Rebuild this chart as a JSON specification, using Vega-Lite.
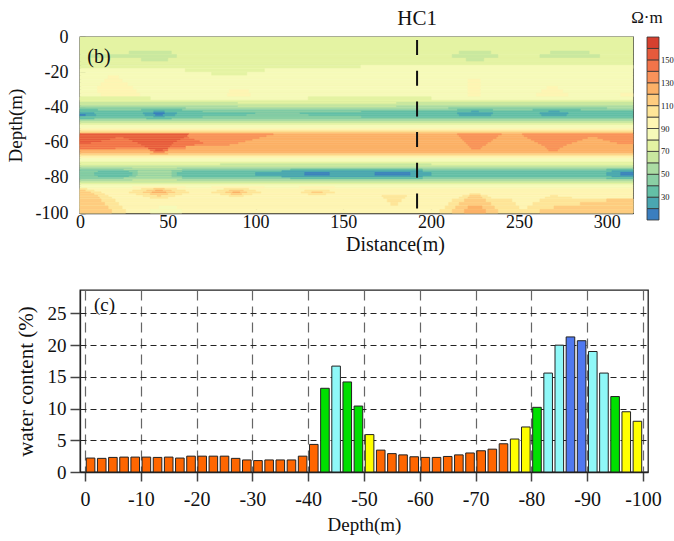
{
  "$schema": "https://vega.github.io/schema/vega-lite/v6.json",
  "padding": {"left": 5, "top": 7, "right": 0, "bottom": 0},
  "datasets": {
    "heat": [
      {"x0":0,"x1":315,"y0":0,"y1":-8,"v":75},
      {"x0":0,"x1":315,"y0":-8,"y1":-10,"v":75},{"x0":28,"x1":52,"y0":-8,"y1":-10,"v":65},{"x0":216,"x1":234,"y0":-8,"y1":-10,"v":65},{"x0":268,"x1":290,"y0":-8,"y1":-10,"v":65},
      {"x0":0,"x1":315,"y0":-10,"y1":-12,"v":75},{"x0":5,"x1":55,"y0":-10,"y1":-12,"v":65},{"x0":212,"x1":238,"y0":-10,"y1":-12,"v":65},{"x0":262,"x1":296,"y0":-10,"y1":-12,"v":65},
      {"x0":0,"x1":315,"y0":-12,"y1":-14,"v":75},{"x0":35,"x1":50,"y0":-12,"y1":-14,"v":65},{"x0":220,"x1":230,"y0":-12,"y1":-14,"v":65},
      {"x0":0,"x1":315,"y0":-14,"y1":-16,"v":75},
      {"x0":0,"x1":315,"y0":-16,"y1":-18,"v":75},{"x0":160,"x1":315,"y0":-16,"y1":-18,"v":85},
      {"x0":0,"x1":315,"y0":-18,"y1":-20,"v":85},{"x0":60,"x1":105,"y0":-18,"y1":-20,"v":75},
      {"x0":0,"x1":315,"y0":-20,"y1":-22,"v":85},{"x0":75,"x1":95,"y0":-20,"y1":-22,"v":75},
      {"x0":0,"x1":315,"y0":-22,"y1":-24,"v":85},{"x0":16,"x1":22,"y0":-22,"y1":-24,"v":95},
      {"x0":0,"x1":315,"y0":-24,"y1":-26,"v":85},{"x0":14,"x1":24,"y0":-24,"y1":-26,"v":95},{"x0":221,"x1":228,"y0":-24,"y1":-26,"v":95},
      {"x0":0,"x1":315,"y0":-26,"y1":-28,"v":85},{"x0":12,"x1":27,"y0":-26,"y1":-28,"v":95},{"x0":221,"x1":228,"y0":-26,"y1":-28,"v":95},
      {"x0":0,"x1":315,"y0":-28,"y1":-30,"v":85},{"x0":10,"x1":30,"y0":-28,"y1":-30,"v":95},{"x0":221,"x1":228,"y0":-28,"y1":-30,"v":95},{"x0":266,"x1":272,"y0":-28,"y1":-30,"v":95},
      {"x0":0,"x1":315,"y0":-30,"y1":-32,"v":85},{"x0":10,"x1":32,"y0":-30,"y1":-32,"v":95},{"x0":85,"x1":96,"y0":-30,"y1":-32,"v":95},{"x0":221,"x1":228,"y0":-30,"y1":-32,"v":95},{"x0":263,"x1":275,"y0":-30,"y1":-32,"v":95},
      {"x0":0,"x1":315,"y0":-32,"y1":-34,"v":85},{"x0":12,"x1":34,"y0":-32,"y1":-34,"v":95},{"x0":84,"x1":97,"y0":-32,"y1":-34,"v":95},{"x0":221,"x1":228,"y0":-32,"y1":-34,"v":95},{"x0":260,"x1":278,"y0":-32,"y1":-34,"v":95},{"x0":308,"x1":315,"y0":-32,"y1":-34,"v":95},
      {"x0":0,"x1":315,"y0":-34,"y1":-36,"v":85},{"x0":0,"x1":40,"y0":-34,"y1":-36,"v":75},{"x0":130,"x1":200,"y0":-34,"y1":-36,"v":75},
      {"x0":0,"x1":315,"y0":-36,"y1":-37,"v":75},
      {"x0":0,"x1":315,"y0":-37,"y1":-38,"v":65},{"x0":90,"x1":180,"y0":-37,"y1":-38,"v":75},
      {"x0":0,"x1":315,"y0":-38,"y1":-39,"v":65},
      {"x0":0,"x1":315,"y0":-39,"y1":-40,"v":55},{"x0":90,"x1":180,"y0":-39,"y1":-40,"v":65},
      {"x0":0,"x1":315,"y0":-40,"y1":-41,"v":55},{"x0":0,"x1":60,"y0":-40,"y1":-41,"v":45},{"x0":210,"x1":300,"y0":-40,"y1":-41,"v":45},
      {"x0":0,"x1":315,"y0":-41,"y1":-42,"v":45},{"x0":0,"x1":10,"y0":-41,"y1":-42,"v":35},{"x0":35,"x1":58,"y0":-41,"y1":-42,"v":35},{"x0":215,"x1":235,"y0":-41,"y1":-42,"v":35},{"x0":258,"x1":285,"y0":-41,"y1":-42,"v":35},
      {"x0":0,"x1":315,"y0":-42,"y1":-43,"v":35},{"x0":70,"x1":160,"y0":-42,"y1":-43,"v":45},{"x0":42,"x1":48,"y0":-42,"y1":-43,"v":25},{"x0":223,"x1":227,"y0":-42,"y1":-43,"v":25},{"x0":267,"x1":273,"y0":-42,"y1":-43,"v":25},
      {"x0":0,"x1":315,"y0":-43,"y1":-44,"v":35},{"x0":0,"x1":8,"y0":-43,"y1":-44,"v":25},{"x0":36,"x1":55,"y0":-43,"y1":-44,"v":25},{"x0":42,"x1":48,"y0":-43,"y1":-44,"v":15},{"x0":100,"x1":125,"y0":-43,"y1":-44,"v":45},{"x0":215,"x1":235,"y0":-43,"y1":-44,"v":25},{"x0":262,"x1":278,"y0":-43,"y1":-44,"v":25},
      {"x0":0,"x1":315,"y0":-44,"y1":-45,"v":35},{"x0":0,"x1":9,"y0":-44,"y1":-45,"v":25},{"x0":0,"x1":3,"y0":-44,"y1":-45,"v":15},{"x0":37,"x1":54,"y0":-44,"y1":-45,"v":25},{"x0":43,"x1":47,"y0":-44,"y1":-45,"v":15},{"x0":95,"x1":130,"y0":-44,"y1":-45,"v":45},{"x0":216,"x1":234,"y0":-44,"y1":-45,"v":25},{"x0":263,"x1":277,"y0":-44,"y1":-45,"v":25},
      {"x0":0,"x1":315,"y0":-45,"y1":-46,"v":35},{"x0":70,"x1":160,"y0":-45,"y1":-46,"v":45},{"x0":42,"x1":48,"y0":-45,"y1":-46,"v":25},
      {"x0":0,"x1":315,"y0":-46,"y1":-47,"v":45},{"x0":0,"x1":8,"y0":-46,"y1":-47,"v":35},{"x0":38,"x1":52,"y0":-46,"y1":-47,"v":35},
      {"x0":0,"x1":315,"y0":-47,"y1":-48,"v":55},
      {"x0":0,"x1":315,"y0":-48,"y1":-49,"v":65},
      {"x0":0,"x1":315,"y0":-49,"y1":-50,"v":75},
      {"x0":0,"x1":315,"y0":-50,"y1":-52,"v":85},
      {"x0":0,"x1":315,"y0":-52,"y1":-53,"v":95},
      {"x0":0,"x1":315,"y0":-53,"y1":-54,"v":105},
      {"x0":0,"x1":315,"y0":-54,"y1":-55,"v":115},
      {"x0":0,"x1":315,"y0":-55,"y1":-56,"v":125},{"x0":0,"x1":62,"y0":-55,"y1":-56,"v":155},{"x0":62,"x1":110,"y0":-55,"y1":-56,"v":135},{"x0":215,"x1":240,"y0":-55,"y1":-56,"v":135},{"x0":252,"x1":315,"y0":-55,"y1":-56,"v":135},
      {"x0":0,"x1":315,"y0":-56,"y1":-57,"v":125},{"x0":61,"x1":106,"y0":-56,"y1":-57,"v":135},{"x0":0,"x1":61,"y0":-56,"y1":-57,"v":155},{"x0":216,"x1":238,"y0":-56,"y1":-57,"v":135},{"x0":253,"x1":315,"y0":-56,"y1":-57,"v":135},
      {"x0":0,"x1":315,"y0":-57,"y1":-58,"v":125},{"x0":0,"x1":102,"y0":-57,"y1":-58,"v":135},{"x0":0,"x1":62,"y0":-57,"y1":-58,"v":145},{"x0":0,"x1":20,"y0":-57,"y1":-58,"v":155},{"x0":25,"x1":59,"y0":-57,"y1":-58,"v":155},{"x0":217,"x1":237,"y0":-57,"y1":-58,"v":135},{"x0":255,"x1":289,"y0":-57,"y1":-58,"v":135},{"x0":295,"x1":315,"y0":-57,"y1":-58,"v":135},
      {"x0":0,"x1":315,"y0":-58,"y1":-59,"v":125},{"x0":0,"x1":98,"y0":-58,"y1":-59,"v":135},{"x0":0,"x1":65,"y0":-58,"y1":-59,"v":145},{"x0":0,"x1":17,"y0":-58,"y1":-59,"v":155},{"x0":28,"x1":57,"y0":-58,"y1":-59,"v":155},{"x0":218,"x1":235,"y0":-58,"y1":-59,"v":135},{"x0":257,"x1":286,"y0":-58,"y1":-59,"v":135},{"x0":298,"x1":315,"y0":-58,"y1":-59,"v":135},
      {"x0":0,"x1":315,"y0":-59,"y1":-60,"v":125},{"x0":0,"x1":94,"y0":-59,"y1":-60,"v":135},{"x0":0,"x1":68,"y0":-59,"y1":-60,"v":145},{"x0":0,"x1":12,"y0":-59,"y1":-60,"v":155},{"x0":30,"x1":55,"y0":-59,"y1":-60,"v":155},{"x0":219,"x1":234,"y0":-59,"y1":-60,"v":135},{"x0":259,"x1":283,"y0":-59,"y1":-60,"v":135},{"x0":302,"x1":315,"y0":-59,"y1":-60,"v":135},
      {"x0":0,"x1":315,"y0":-60,"y1":-61,"v":125},{"x0":0,"x1":90,"y0":-60,"y1":-61,"v":135},{"x0":0,"x1":70,"y0":-60,"y1":-61,"v":145},{"x0":0,"x1":6,"y0":-60,"y1":-61,"v":155},{"x0":33,"x1":53,"y0":-60,"y1":-61,"v":155},{"x0":220,"x1":232,"y0":-60,"y1":-61,"v":135},{"x0":261,"x1":280,"y0":-60,"y1":-61,"v":135},{"x0":306,"x1":315,"y0":-60,"y1":-61,"v":135},
      {"x0":0,"x1":315,"y0":-61,"y1":-62,"v":125},{"x0":0,"x1":85,"y0":-61,"y1":-62,"v":135},{"x0":0,"x1":65,"y0":-61,"y1":-62,"v":145},{"x0":35,"x1":52,"y0":-61,"y1":-62,"v":155},{"x0":221,"x1":231,"y0":-61,"y1":-62,"v":135},{"x0":263,"x1":277,"y0":-61,"y1":-62,"v":135},
      {"x0":0,"x1":315,"y0":-62,"y1":-63,"v":125},{"x0":0,"x1":60,"y0":-62,"y1":-63,"v":145},{"x0":37,"x1":51,"y0":-62,"y1":-63,"v":155},{"x0":222,"x1":229,"y0":-62,"y1":-63,"v":135},{"x0":265,"x1":275,"y0":-62,"y1":-63,"v":135},
      {"x0":0,"x1":315,"y0":-63,"y1":-64,"v":125},{"x0":0,"x1":60,"y0":-63,"y1":-64,"v":135},{"x0":0,"x1":20,"y0":-63,"y1":-64,"v":145},{"x0":39,"x1":50,"y0":-63,"y1":-64,"v":155},{"x0":223,"x1":228,"y0":-63,"y1":-64,"v":135},{"x0":266,"x1":273,"y0":-63,"y1":-64,"v":135},
      {"x0":0,"x1":315,"y0":-64,"y1":-65,"v":125},{"x0":40,"x1":50,"y0":-64,"y1":-65,"v":145},{"x0":43,"x1":47,"y0":-64,"y1":-65,"v":155},{"x0":267,"x1":272,"y0":-64,"y1":-65,"v":135},
      {"x0":0,"x1":315,"y0":-65,"y1":-66,"v":125},{"x0":42,"x1":48,"y0":-65,"y1":-66,"v":145},
      {"x0":0,"x1":315,"y0":-66,"y1":-67,"v":115},{"x0":40,"x1":50,"y0":-66,"y1":-67,"v":125},
      {"x0":0,"x1":315,"y0":-67,"y1":-68,"v":105},
      {"x0":0,"x1":315,"y0":-68,"y1":-69,"v":95},
      {"x0":0,"x1":315,"y0":-69,"y1":-71,"v":85},
      {"x0":0,"x1":315,"y0":-71,"y1":-72,"v":75},
      {"x0":0,"x1":315,"y0":-72,"y1":-73,"v":75},{"x0":80,"x1":200,"y0":-72,"y1":-73,"v":65},
      {"x0":0,"x1":315,"y0":-73,"y1":-74,"v":65},
      {"x0":0,"x1":315,"y0":-74,"y1":-75,"v":55},{"x0":30,"x1":55,"y0":-74,"y1":-75,"v":65},
      {"x0":0,"x1":315,"y0":-75,"y1":-76,"v":45},{"x0":25,"x1":58,"y0":-75,"y1":-76,"v":55},{"x0":120,"x1":195,"y0":-75,"y1":-76,"v":35},{"x0":300,"x1":315,"y0":-75,"y1":-76,"v":35},
      {"x0":0,"x1":315,"y0":-76,"y1":-77,"v":35},{"x0":0,"x1":10,"y0":-76,"y1":-77,"v":45},{"x0":28,"x1":58,"y0":-76,"y1":-77,"v":45},{"x0":33,"x1":52,"y0":-76,"y1":-77,"v":55},{"x0":115,"x1":195,"y0":-76,"y1":-77,"v":25},{"x0":303,"x1":315,"y0":-76,"y1":-77,"v":25},
      {"x0":0,"x1":315,"y0":-77,"y1":-78,"v":35},{"x0":0,"x1":8,"y0":-77,"y1":-78,"v":45},{"x0":30,"x1":55,"y0":-77,"y1":-78,"v":45},{"x0":33,"x1":52,"y0":-77,"y1":-78,"v":55},{"x0":100,"x1":200,"y0":-77,"y1":-78,"v":25},{"x0":128,"x1":142,"y0":-77,"y1":-78,"v":15},{"x0":168,"x1":188,"y0":-77,"y1":-78,"v":15},{"x0":300,"x1":315,"y0":-77,"y1":-78,"v":25},{"x0":308,"x1":315,"y0":-77,"y1":-78,"v":15},
      {"x0":0,"x1":315,"y0":-78,"y1":-79,"v":35},{"x0":0,"x1":8,"y0":-78,"y1":-79,"v":45},{"x0":30,"x1":55,"y0":-78,"y1":-79,"v":45},{"x0":33,"x1":52,"y0":-78,"y1":-79,"v":55},{"x0":100,"x1":200,"y0":-78,"y1":-79,"v":25},{"x0":128,"x1":142,"y0":-78,"y1":-79,"v":15},{"x0":168,"x1":188,"y0":-78,"y1":-79,"v":15},{"x0":300,"x1":315,"y0":-78,"y1":-79,"v":25},{"x0":308,"x1":315,"y0":-78,"y1":-79,"v":15},
      {"x0":0,"x1":315,"y0":-79,"y1":-80,"v":35},{"x0":0,"x1":10,"y0":-79,"y1":-80,"v":45},{"x0":28,"x1":58,"y0":-79,"y1":-80,"v":45},{"x0":32,"x1":52,"y0":-79,"y1":-80,"v":55},{"x0":115,"x1":195,"y0":-79,"y1":-80,"v":25},{"x0":303,"x1":315,"y0":-79,"y1":-80,"v":25},
      {"x0":0,"x1":315,"y0":-80,"y1":-81,"v":45},{"x0":25,"x1":58,"y0":-80,"y1":-81,"v":55},{"x0":120,"x1":195,"y0":-80,"y1":-81,"v":35},{"x0":300,"x1":315,"y0":-80,"y1":-81,"v":35},
      {"x0":0,"x1":315,"y0":-81,"y1":-82,"v":55},{"x0":30,"x1":55,"y0":-81,"y1":-82,"v":65},
      {"x0":0,"x1":315,"y0":-82,"y1":-83,"v":65},
      {"x0":0,"x1":315,"y0":-83,"y1":-84,"v":75},
      {"x0":0,"x1":315,"y0":-84,"y1":-85,"v":85},
      {"x0":0,"x1":315,"y0":-85,"y1":-86,"v":85},{"x0":30,"x1":60,"y0":-85,"y1":-86,"v":95},{"x0":75,"x1":105,"y0":-85,"y1":-86,"v":95},{"x0":125,"x1":145,"y0":-85,"y1":-86,"v":95},
      {"x0":0,"x1":315,"y0":-86,"y1":-87,"v":95},{"x0":0,"x1":4,"y0":-86,"y1":-87,"v":105},{"x0":35,"x1":55,"y0":-86,"y1":-87,"v":105},{"x0":42,"x1":48,"y0":-86,"y1":-87,"v":115},{"x0":82,"x1":96,"y0":-86,"y1":-87,"v":105},
      {"x0":0,"x1":315,"y0":-87,"y1":-88,"v":95},{"x0":0,"x1":8,"y0":-87,"y1":-88,"v":105},{"x0":0,"x1":3,"y0":-87,"y1":-88,"v":115},{"x0":30,"x1":60,"y0":-87,"y1":-88,"v":105},{"x0":38,"x1":52,"y0":-87,"y1":-88,"v":115},{"x0":43,"x1":47,"y0":-87,"y1":-88,"v":125},{"x0":78,"x1":100,"y0":-87,"y1":-88,"v":105},{"x0":85,"x1":93,"y0":-87,"y1":-88,"v":115},{"x0":128,"x1":142,"y0":-87,"y1":-88,"v":105},
      {"x0":0,"x1":315,"y0":-88,"y1":-89,"v":95},{"x0":0,"x1":12,"y0":-88,"y1":-89,"v":105},{"x0":0,"x1":6,"y0":-88,"y1":-89,"v":115},{"x0":28,"x1":62,"y0":-88,"y1":-89,"v":105},{"x0":36,"x1":54,"y0":-88,"y1":-89,"v":115},{"x0":41,"x1":49,"y0":-88,"y1":-89,"v":125},{"x0":75,"x1":103,"y0":-88,"y1":-89,"v":105},{"x0":83,"x1":95,"y0":-88,"y1":-89,"v":115},{"x0":87,"x1":91,"y0":-88,"y1":-89,"v":125},{"x0":126,"x1":145,"y0":-88,"y1":-89,"v":105},{"x0":132,"x1":138,"y0":-88,"y1":-89,"v":115},
      {"x0":0,"x1":315,"y0":-89,"y1":-90,"v":95},{"x0":0,"x1":14,"y0":-89,"y1":-90,"v":105},{"x0":0,"x1":8,"y0":-89,"y1":-90,"v":115},{"x0":32,"x1":58,"y0":-89,"y1":-90,"v":105},{"x0":40,"x1":50,"y0":-89,"y1":-90,"v":115},{"x0":80,"x1":98,"y0":-89,"y1":-90,"v":105},{"x0":86,"x1":92,"y0":-89,"y1":-90,"v":115},{"x0":130,"x1":140,"y0":-89,"y1":-90,"v":105},{"x0":222,"x1":228,"y0":-89,"y1":-90,"v":105},
      {"x0":0,"x1":315,"y0":-90,"y1":-91,"v":95},{"x0":0,"x1":16,"y0":-90,"y1":-91,"v":105},{"x0":0,"x1":10,"y0":-90,"y1":-91,"v":115},{"x0":36,"x1":54,"y0":-90,"y1":-91,"v":105},{"x0":44,"x1":46,"y0":-90,"y1":-91,"v":115},{"x0":85,"x1":93,"y0":-90,"y1":-91,"v":105},{"x0":172,"x1":186,"y0":-90,"y1":-91,"v":105},{"x0":218,"x1":232,"y0":-90,"y1":-91,"v":105},{"x0":222,"x1":228,"y0":-90,"y1":-91,"v":115},{"x0":268,"x1":272,"y0":-90,"y1":-91,"v":105},
      {"x0":0,"x1":315,"y0":-91,"y1":-92,"v":95},{"x0":0,"x1":18,"y0":-91,"y1":-92,"v":105},{"x0":0,"x1":11,"y0":-91,"y1":-92,"v":115},{"x0":40,"x1":50,"y0":-91,"y1":-92,"v":105},{"x0":173,"x1":185,"y0":-91,"y1":-92,"v":105},{"x0":216,"x1":234,"y0":-91,"y1":-92,"v":105},{"x0":221,"x1":229,"y0":-91,"y1":-92,"v":115},{"x0":265,"x1":280,"y0":-91,"y1":-92,"v":105},
      {"x0":0,"x1":315,"y0":-92,"y1":-94,"v":95},{"x0":0,"x1":20,"y0":-92,"y1":-94,"v":105},{"x0":0,"x1":12,"y0":-92,"y1":-94,"v":115},{"x0":175,"x1":183,"y0":-92,"y1":-94,"v":105},{"x0":212,"x1":246,"y0":-92,"y1":-94,"v":105},{"x0":219,"x1":231,"y0":-92,"y1":-94,"v":115},{"x0":262,"x1":315,"y0":-92,"y1":-94,"v":105},{"x0":300,"x1":315,"y0":-92,"y1":-94,"v":115},
      {"x0":0,"x1":315,"y0":-94,"y1":-96,"v":95},{"x0":0,"x1":22,"y0":-94,"y1":-96,"v":105},{"x0":0,"x1":14,"y0":-94,"y1":-96,"v":115},{"x0":177,"x1":181,"y0":-94,"y1":-96,"v":105},{"x0":210,"x1":248,"y0":-94,"y1":-96,"v":105},{"x0":216,"x1":234,"y0":-94,"y1":-96,"v":115},{"x0":258,"x1":315,"y0":-94,"y1":-96,"v":105},{"x0":285,"x1":315,"y0":-94,"y1":-96,"v":115},
      {"x0":0,"x1":315,"y0":-96,"y1":-98,"v":95},{"x0":0,"x1":24,"y0":-96,"y1":-98,"v":105},{"x0":0,"x1":16,"y0":-96,"y1":-98,"v":115},{"x0":45,"x1":55,"y0":-96,"y1":-98,"v":85},{"x0":208,"x1":250,"y0":-96,"y1":-98,"v":105},{"x0":214,"x1":236,"y0":-96,"y1":-98,"v":115},{"x0":221,"x1":229,"y0":-96,"y1":-98,"v":125},{"x0":255,"x1":315,"y0":-96,"y1":-98,"v":105},{"x0":270,"x1":315,"y0":-96,"y1":-98,"v":115},
      {"x0":0,"x1":315,"y0":-98,"y1":-100,"v":95},{"x0":0,"x1":26,"y0":-98,"y1":-100,"v":105},{"x0":0,"x1":18,"y0":-98,"y1":-100,"v":115},{"x0":40,"x1":58,"y0":-98,"y1":-100,"v":85},{"x0":205,"x1":315,"y0":-98,"y1":-100,"v":105},{"x0":212,"x1":238,"y0":-98,"y1":-100,"v":115},{"x0":219,"x1":231,"y0":-98,"y1":-100,"v":125},{"x0":262,"x1":315,"y0":-98,"y1":-100,"v":115}
    ],
    "bars": [
      {"d":-1,"w":2.2,"c":"o"},{"d":-3,"w":2.15,"c":"o"},{"d":-5,"w":2.3,"c":"o"},{"d":-7,"w":2.35,"c":"o"},{"d":-9,"w":2.35,"c":"o"},
      {"d":-11,"w":2.35,"c":"o"},{"d":-13,"w":2.3,"c":"o"},{"d":-15,"w":2.35,"c":"o"},{"d":-17,"w":2.2,"c":"o"},{"d":-19,"w":2.5,"c":"o"},
      {"d":-21,"w":2.5,"c":"o"},{"d":-23,"w":2.5,"c":"o"},{"d":-25,"w":2.5,"c":"o"},{"d":-27,"w":2.15,"c":"o"},{"d":-29,"w":1.9,"c":"o"},
      {"d":-31,"w":1.8,"c":"o"},{"d":-33,"w":1.9,"c":"o"},{"d":-35,"w":1.9,"c":"o"},{"d":-37,"w":1.9,"c":"o"},{"d":-39,"w":2.5,"c":"o"},
      {"d":-41,"w":4.35,"c":"o"},{"d":-43,"w":13.2,"c":"g"},{"d":-45,"w":16.7,"c":"c"},{"d":-47,"w":14.2,"c":"g"},{"d":-49,"w":10.4,"c":"g"},
      {"d":-51,"w":5.9,"c":"y"},{"d":-53,"w":3.45,"c":"o"},{"d":-55,"w":2.9,"c":"o"},{"d":-57,"w":2.7,"c":"o"},{"d":-59,"w":2.4,"c":"o"},
      {"d":-61,"w":2.3,"c":"o"},{"d":-63,"w":2.3,"c":"o"},{"d":-65,"w":2.45,"c":"o"},{"d":-67,"w":2.7,"c":"o"},{"d":-69,"w":3.0,"c":"o"},
      {"d":-71,"w":3.35,"c":"o"},{"d":-73,"w":3.6,"c":"o"},{"d":-75,"w":4.45,"c":"o"},{"d":-77,"w":5.2,"c":"y"},{"d":-79,"w":7.1,"c":"y"},
      {"d":-81,"w":10.2,"c":"g"},{"d":-83,"w":15.6,"c":"c"},{"d":-85,"w":20.0,"c":"c"},{"d":-87,"w":21.3,"c":"b"},{"d":-89,"w":20.7,"c":"b"},
      {"d":-91,"w":19.0,"c":"c"},{"d":-93,"w":15.6,"c":"c"},{"d":-95,"w":11.9,"c":"g"},{"d":-97,"w":9.5,"c":"y"},{"d":-99,"w":8.0,"c":"y"}
    ]
  },
  "concat": [
    {
      "width": 553,
      "height": 176,
      "view": {"stroke": "#222", "strokeWidth": 1.3},
      "encoding": {
        "x": {"field": "x0", "type": "quantitative", "title": "Distance(m)",
          "scale": {"domain": [0, 315], "nice": false, "zero": false},
          "axis": {"values": [0, 50, 100, 150, 200, 250, 300], "tickSize": -5, "labelFontSize": 18, "labelPadding": 5, "titleFontSize": 20, "titlePadding": 3, "titleX": 315, "grid": false,
            "labelFont": "Liberation Serif", "titleFont": "Liberation Serif", "titleFontWeight": "normal", "labelColor": "#111", "titleColor": "#111", "domainColor": "#222", "tickColor": "#222", "domainWidth": 1.3, "tickWidth": 1.3, "labelFlush": false, "labelOverlap": false}},
        "y": {"field": "y0", "type": "quantitative", "title": "Depth(m)",
          "scale": {"domain": [-100, 0], "nice": false, "zero": false},
          "axis": {"values": [0, -20, -40, -60, -80, -100], "labelExpr": "datum.value == 0 ? '0' : '-' + abs(datum.value)", "tickSize": -5, "labelFontSize": 18, "labelPadding": 17, "titleFontSize": 19, "titlePadding": 10, "grid": false,
            "labelFont": "Liberation Serif", "titleFont": "Liberation Serif", "titleFontWeight": "normal", "labelColor": "#111", "titleColor": "#111", "domainColor": "#222", "tickColor": "#222", "domainWidth": 1.3, "tickWidth": 1.3, "labelFlush": false, "labelOverlap": false}}
      },
      "layer": [
        {
          "data": {"name": "heat"},
          "mark": {"type": "rect", "strokeWidth": 0.6},
          "encoding": {
            "x2": {"field": "x1"},
            "y2": {"field": "y1"},
            "color": {"field": "v", "type": "quantitative",
              "scale": {"type": "quantize", "domain": [10, 170], "nice": false, "range": ["#3B7EBF","#4AA6B1","#64BFA6","#8ACFA4","#ABDCA3","#C9E89F","#E4F3A3","#F6FAB9","#FEF5B3","#FEE598","#FECC7F","#FCB167","#F9925A","#F2744A","#E65A3C","#D6402F"]},
              "legend": {"type": "gradient", "orient": "none", "legendX": 551, "legendY": -27, "direction": "vertical", "title": "Ω·m", "titleFont": "Liberation Serif", "titleFontWeight": "normal", "titleFontSize": 17, "titleAnchor": "start", "titleAlign": "center", "titlePadding": 10, "titleColor": "#111", "gradientLength": 183, "gradientThickness": 12, "gradientStrokeColor": "#333", "gradientStrokeWidth": 0.8, "labelFont": "Liberation Serif", "labelFontSize": 8.5, "labelOffset": 2, "labelColor": "#111", "labelOverlap": false, "labelExpr": "(datum.value - 10) % 20 == 0 && datum.value < 160 ? datum.label : ''"}},
            "stroke": {"field": "v", "type": "quantitative",
              "scale": {"type": "quantize", "domain": [10, 170], "nice": false, "range": ["#3B7EBF","#4AA6B1","#64BFA6","#8ACFA4","#ABDCA3","#C9E89F","#E4F3A3","#F6FAB9","#FEF5B3","#FEE598","#FECC7F","#FCB167","#F9925A","#F2744A","#E65A3C","#D6402F"]},
              "legend": null}
          }
        },
        {
          "data": {"values": [{"x0": 192, "y0": -1.7, "y1": -97.5}]},
          "mark": {"type": "rule", "color": "#111", "strokeWidth": 2, "strokeDash": [15, 15.7]},
          "encoding": {"y2": {"field": "y1"}}
        },
        {
          "data": {"values": [{"x0": 192, "y0": 0, "t": "HC1"}]},
          "mark": {"type": "text", "fontSize": 21, "baseline": "alphabetic", "dy": -12, "color": "#111", "font": "Liberation Serif"},
          "encoding": {"text": {"field": "t"}}
        },
        {
          "data": {"values": [{"x0": 4.2, "y0": -11.6, "t": "(b)"}]},
          "mark": {"type": "text", "fontSize": 20, "align": "left", "baseline": "middle", "color": "#111", "font": "Liberation Serif"},
          "encoding": {"text": {"field": "t"}}
        }
      ]
    },
    {
      "width": 568,
      "height": 182,
      "view": {"stroke": "#222", "strokeWidth": 1.3},
      "encoding": {
        "x": {"field": "d", "type": "quantitative", "title": "Depth(m)",
          "scale": {"domain": [0, -100], "nice": false, "zero": false},
          "axis": {"values": [0, -10, -20, -30, -40, -50, -60, -70, -80, -90, -100], "labelExpr": "datum.value == 0 ? '0' : '-' + abs(datum.value)", "tickSize": 9, "labelFontSize": 20, "labelPadding": 8, "titleFontSize": 19, "titlePadding": 6, "grid": true, "gridDash": [10, 6], "gridColor": "#666", "gridWidth": 1.2, "gridOpacity": 1,
            "labelFont": "Liberation Serif", "titleFont": "Liberation Serif", "titleFontWeight": "normal", "labelColor": "#111", "titleColor": "#111", "domainColor": "#222", "tickColor": "#444", "domainWidth": 1.3, "tickWidth": 1.5, "labelFlush": false, "labelOverlap": false}},
        "y": {"field": "w", "type": "quantitative", "title": "water content (%)",
          "scale": {"domain": [0, 28.7], "nice": false},
          "axis": {"values": [0, 5, 10, 15, 20, 25], "tickSize": 10, "labelFontSize": 19, "labelPadding": 4, "titleFontSize": 21, "titlePadding": 11, "grid": true, "gridDash": [6, 4], "gridColor": "#222", "gridWidth": 1, "gridOpacity": 1,
            "labelFont": "Liberation Serif", "titleFont": "Liberation Serif", "titleFontWeight": "normal", "labelColor": "#111", "titleColor": "#111", "domainColor": "#222", "tickColor": "#444", "domainWidth": 1.3, "tickWidth": 1.5, "labelFlush": false, "labelOverlap": false}}
      },
      "layer": [
        {
          "data": {"name": "bars"},
          "mark": {"type": "bar", "width": 8.6, "stroke": "#222", "strokeWidth": 1},
          "encoding": {
            "color": {"field": "c", "type": "nominal",
              "scale": {"domain": ["o", "y", "g", "c", "b"], "range": ["#FF6600", "#FFFF00", "#00E000", "#8FF8F8", "#5078F0"]},
              "legend": null}
          }
        },
        {
          "data": {"values": [{"d": -1.6, "w": 26.3, "t": "(c)"}]},
          "mark": {"type": "text", "fontSize": 19, "align": "left", "baseline": "middle", "color": "#111", "font": "Liberation Serif"},
          "encoding": {"text": {"field": "t"}}
        }
      ]
    }
  ],
  "columns": 1,
  "align": "none",
  "spacing": 34,
  "resolve": {"scale": {"x": "independent", "y": "independent", "color": "independent", "stroke": "independent"}}
}
